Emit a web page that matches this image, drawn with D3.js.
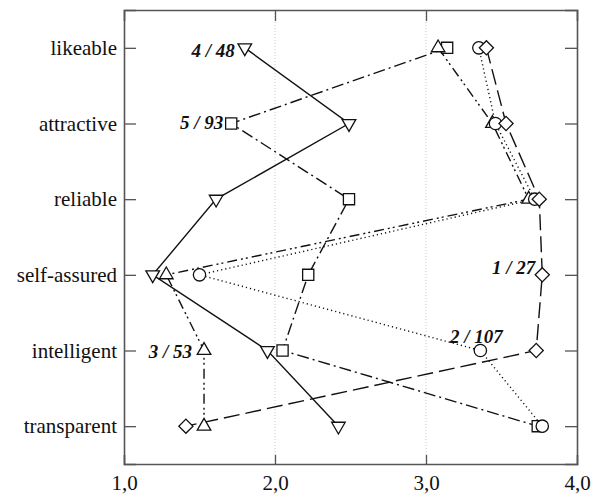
<!DOCTYPE html>
<html>
<head>
<meta charset="utf-8">
<script src="https://cdn.jsdelivr.net/npm/d3@7"></script>
<style>
  body { margin: 0; background: #fff; }
  svg { display: block; }
</style>
</head>
<body>
<div id="chart"></div>
<script>
const categories = ["likeable", "attractive", "reliable", "self-assured", "intelligent", "transparent"]
const xTicks = [1, 2, 3, 4]

// one array per group, in category order
const group4 = [1.80, 2.49, 1.61, 1.19, 1.95, 2.42]   // 4 / 48
const group5 = [3.14, 1.71, 2.49, 2.22, 2.05, 3.74]   // 5 / 93
const group3 = [3.08, 3.44, 3.68, 1.28, 1.53, 1.53]   // 3 / 53
const group2 = [3.35, 3.46, 3.72, 1.50, 3.36, 3.77]   // 2 / 107
const group1 = [3.40, 3.53, 3.75, 3.77, 3.73, 1.41]   // 1 / 27

const series = [
  { label: "4 / 48", values: group4, marker: "triDown", dash: null, labelAt: 0, dx: -10, dy: 9, anchor: "end" },
  { label: "5 / 93", values: group5, marker: "square", dash: "12,4,2,4", labelAt: 1, dx: -8, dy: 5, anchor: "end" },
  { label: "3 / 53", values: group3, marker: "triUp", dash: "10,4,2,3,2,4", labelAt: 4, dx: -12, dy: 7, anchor: "end" },
  { label: "2 / 107", values: group2, marker: "circle", dash: "1.2,3", labelAt: 4, dx: -4, dy: -8, anchor: "middle" },
  { label: "1 / 27", values: group1, marker: "diamond", dash: "16,6", labelAt: 3, dx: -7, dy: -1, anchor: "end" }
]

const width = 595
const height = 495
const margin = { top: 10, right: 18, bottom: 31, left: 124 }

const svg = d3.select("#chart")
  .append("svg")
  .attr("width", width)
  .attr("height", height)
  .style("font-family", "'Liberation Serif', 'DejaVu Serif', serif")

const x = d3.scaleLinear()
  .domain([1, 4])
  .range([margin.left, width - margin.right])

const y = d3.scalePoint()
  .domain(categories)
  .range([margin.top, height - margin.bottom])
  .padding(0.5)

const frameColor = "#555"

// dotted grid lines at inner x ticks
svg.selectAll(".grid")
  .data([2, 3])
  .enter()
  .append("line")
  .attr("class", "grid")
  .attr("x1", d => x(d))
  .attr("x2", d => x(d))
  .attr("y1", margin.top)
  .attr("y2", height - margin.bottom)
  .attr("stroke", "#bbb")
  .attr("stroke-width", 0.8)
  .attr("stroke-dasharray", "1,2")

// axes with inward ticks
const bottomAxis = svg.append("g")
  .attr("transform", `translate(0,${height - margin.bottom})`)
  .call(d3.axisBottom(x).tickValues(xTicks).tickSize(-9)
    .tickFormat(d => d3.format(".1f")(d).replace(".", ",")))
const topAxis = svg.append("g")
  .attr("transform", `translate(0,${margin.top})`)
  .call(d3.axisTop(x).tickValues(xTicks).tickSize(-11).tickFormat(""))
const leftAxis = svg.append("g")
  .attr("transform", `translate(${margin.left},0)`)
  .call(d3.axisLeft(y).tickSize(-12))
const rightAxis = svg.append("g")
  .attr("transform", `translate(${width - margin.right},0)`)
  .call(d3.axisRight(y).tickSize(-12).tickFormat(""))

for (const g of [bottomAxis, topAxis, leftAxis, rightAxis]) {
  g.attr("font-size", 21).attr("font-family", "'Liberation Serif', serif")
  g.select(".domain").attr("stroke", frameColor).attr("stroke-width", 1.6)
  g.selectAll(".tick line").attr("stroke", frameColor).attr("stroke-width", 1.3)
  g.selectAll("text").attr("fill", "#111")
}
// hide the end ticks on top and bottom (they sit on the frame)
bottomAxis.selectAll(".tick").filter(d => d === 1 || d === 4).select("line").remove()
topAxis.selectAll(".tick").filter(d => d === 1 || d === 4).select("line").remove()
bottomAxis.selectAll(".tick text").attr("y", 26).attr("dy", 0)
leftAxis.selectAll(".tick text").attr("x", -7)

// lines
const line = d3.line()
  .x(d => x(d.v))
  .y(d => y(d.c))

const shapes = {
  triDown: d3.symbol().type(d3.symbolTriangle).size(80),
  triUp: d3.symbol().type(d3.symbolTriangle).size(80),
  square: d3.symbol().type(d3.symbolSquare).size(125),
  circle: d3.symbol().type(d3.symbolCircle).size(120),
  diamond: d3.symbol().type(d3.symbolSquare).size(100)
}
const rotation = { triDown: 180, triUp: 0, square: 0, circle: 0, diamond: 45 }

for (const s of series) {
  const pts = s.values.map((v, i) => ({ v, c: categories[i] }))
  svg.append("path")
    .datum(pts)
    .attr("fill", "none")
    .attr("stroke", "#111")
    .attr("stroke-width", 1.4)
    .attr("stroke-dasharray", s.dash)
    .attr("d", line)
}

for (const s of series) {
  const pts = s.values.map((v, i) => ({ v, c: categories[i] }))
  svg.selectAll(null)
    .data(pts)
    .enter()
    .append("path")
    .attr("transform", d => `translate(${x(d.v)},${y(d.c)}) rotate(${rotation[s.marker]})`)
    .attr("d", shapes[s.marker]())
    .attr("fill", "#fff")
    .attr("stroke", "#111")
    .attr("stroke-width", 1.3)
}

// group labels
svg.selectAll(".group-label")
  .data(series)
  .enter()
  .append("text")
  .attr("class", "group-label")
  .attr("x", d => x(d.values[d.labelAt]) + d.dx)
  .attr("y", d => y(categories[d.labelAt]) + d.dy)
  .attr("text-anchor", d => d.anchor)
  .style("font-size", "19px")
  .style("font-weight", "bold")
  .style("font-style", "italic")
  .attr("fill", "#111")
  .text(d => d.label)
</script>
</body>
</html>
